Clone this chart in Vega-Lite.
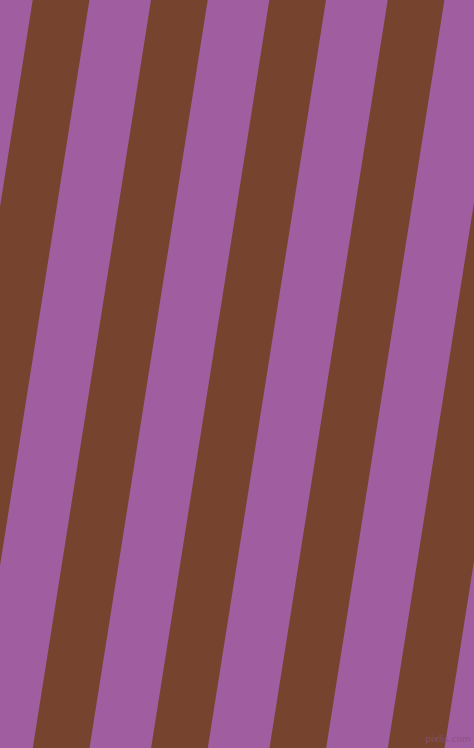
{
  "$schema": "https://vega.github.io/schema/vega-lite/v6.json",
  "autosize": {"type": "fit", "contains": "padding"},
  "width": 474,
  "height": 748,
  "padding": 0,
  "background": "#A05DA0",
  "config": {"view": {"stroke": null}},
  "datasets": {
    "stripes": [
      {"stripe": 0, "y": 0, "x0": 32.7, "x1": 89.4},
      {"stripe": 0, "y": 748, "x0": -85.5, "x1": -28.8},
      {"stripe": 1, "y": 0, "x0": 151.0, "x1": 207.7},
      {"stripe": 1, "y": 748, "x0": 32.8, "x1": 89.5},
      {"stripe": 2, "y": 0, "x0": 269.3, "x1": 326.0},
      {"stripe": 2, "y": 748, "x0": 151.1, "x1": 207.8},
      {"stripe": 3, "y": 0, "x0": 387.7, "x1": 444.4},
      {"stripe": 3, "y": 748, "x0": 269.5, "x1": 326.2},
      {"stripe": 4, "y": 0, "x0": 506.0, "x1": 562.7},
      {"stripe": 4, "y": 748, "x0": 387.8, "x1": 444.5}
    ],
    "mark": [
      {"label": "pixlis.com", "x": 448, "y": 739}
    ]
  },
  "layer": [
    {
      "data": {"name": "stripes"},
      "mark": {"type": "area", "orient": "horizontal", "color": "#76442E", "clip": true, "interpolate": "linear"},
      "encoding": {
        "y": {"field": "y", "type": "quantitative", "scale": {"domain": [0, 748], "reverse": true, "nice": false, "zero": false}, "axis": null},
        "x": {"field": "x0", "type": "quantitative", "scale": {"domain": [0, 474], "nice": false, "zero": false}, "axis": null},
        "x2": {"field": "x1"},
        "detail": {"field": "stripe", "type": "nominal"}
      }
    },
    {
      "data": {"name": "mark"},
      "mark": {"type": "text", "font": "DejaVu Sans", "fontSize": 9, "color": "#8A5080", "opacity": 0.8},
      "encoding": {
        "x": {"field": "x", "type": "quantitative"},
        "y": {"field": "y", "type": "quantitative"},
        "text": {"field": "label"}
      }
    }
  ]
}
